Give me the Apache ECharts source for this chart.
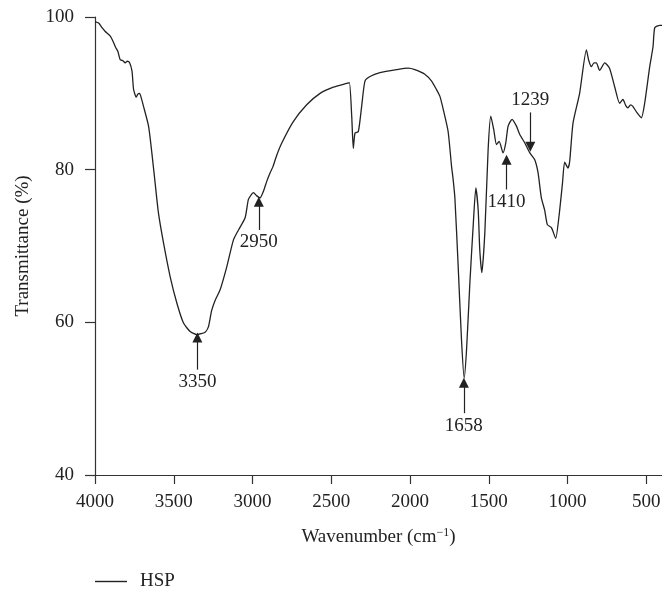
<!DOCTYPE html>
<html>
<head>
<meta charset="utf-8">
<script src="https://cdn.jsdelivr.net/npm/echarts@6/dist/echarts.min.js"></script>
<style>html,body{margin:0;padding:0;background:#fff;}#c{width:662px;height:590px;}</style>
</head>
<body>
<div id="c"></div>
<script>
const wavenumbers = [4000,3977,3955,3935,3903,3885,3871,3855,3840,3825,3808,3795,3781,3765,3755,3738,3728,3717,3705,3692,3660,3639,3618,3597,3565,3523,3480,3438,3396,3353,3301,3280,3260,3237,3205,3163,3121,3089,3047,3026,3005,2994,2975,2952,2930,2909,2888,2870,2846,2814,2741,2656,2571,2487,2402,2385,2370,2360,2349,2328,2307,2286,2254,2191,2085,2011,1969,1906,1863,1832,1810,1789,1758,1736,1726,1715,1694,1673,1656,1641,1620,1599,1582,1567,1557,1544,1525,1504,1487,1468,1451,1434,1409,1392,1377,1352,1324,1303,1271,1239,1208,1187,1166,1145,1128,1102,1075,1054,1032,1018,997,986,965,923,880,865,848,832,817,796,764,733,701,669,648,630,616,600,585,560,531,510,478,457,446,414,400];
const transmittance = [99.4,99.2,98.6,98.1,97.5,96.8,96.1,95.5,94.4,94.3,94.0,94.2,94.05,92.9,90.5,89.5,89.9,90.0,89.3,88.3,85.7,82.2,78.2,74.3,70.4,66.0,62.5,59.9,58.8,58.4,58.7,59.4,61.5,62.9,64.3,67.3,70.8,72.1,73.7,76.1,76.8,77.0,76.6,76.3,77.2,78.5,79.6,80.4,81.9,83.5,86.3,88.5,90.0,90.8,91.3,91.4,87.0,82.8,84.8,85.0,88.3,91.6,92.2,92.7,93.1,93.3,93.1,92.5,91.6,90.5,89.6,87.9,85.0,80.4,78.7,76.3,67.3,57.7,52.7,56.4,65.1,72.6,77.6,74.7,69.5,66.5,71.7,82.6,87.0,85.2,83.3,83.7,82.2,83.5,85.7,86.6,85.7,84.6,83.5,82.2,81.3,79.6,76.3,74.7,72.8,72.4,71.0,73.9,78.2,81.0,80.2,81.1,86.1,90.0,95.7,94.3,93.5,94.0,94.0,93.0,94.0,93.3,90.9,88.7,89.2,88.4,88.1,88.5,88.3,87.5,86.8,88.7,93.5,96.1,98.6,98.9,98.9];
const xTicks = [4000,3500,3000,2500,2000,1500,1000,500];
const yTicks = [40,60,80,100];
const annoLabels = ['3350','2950','1658','1410','1239'];
const annoX = [3350,2960,1658,1387,1236];
const annoTail = [53.8,72.1,48.1,77.4,87.5];
const annoTip = [58.0,75.8,52.1,81.3,83.0];
const seriesName = 'HSP';

const FONT = 'Liberation Serif';
const INK = '#222';
const chart = echarts.init(document.getElementById('c'));
const mlData = annoLabels.map((t, i) => [
  {coord: [annoX[i], annoTail[i]], label: {formatter: t}},
  {coord: [annoX[i], annoTip[i]]}
]);
chart.setOption({
  animation: false,
  grid: {left: 95, right: 0, top: 17, bottom: 115, containLabel: false, outerBoundsMode: 'none'},
  legend: {
    left: 95, top: 572, padding: 0, itemWidth: 32, itemHeight: 1.4, icon: 'rect',
    data: [seriesName],
    itemStyle: {color: INK},
    textStyle: {fontFamily: FONT, fontSize: 19, color: INK, padding: [0,0,0,8]}
  },
  xAxis: {
    type: 'value', inverse: true, min: 400, max: 4000,
    name: 'Wavenumber (cm{sup|−1})', nameLocation: 'middle', nameGap: 52,
    nameTextStyle: {fontFamily: FONT, fontSize: 19, color: INK,
      rich: {sup: {fontFamily: FONT, fontSize: 12, color: INK, verticalAlign: 'top', padding: [0,0,8,0]}}},
    axisLine: {lineStyle: {color: '#333', width: 1.2}},
    axisTick: {length: 9, lineStyle: {color: '#333', width: 1.2}, customValues: xTicks},
    axisLabel: {customValues: xTicks, margin: 18, fontFamily: FONT, fontSize: 19, color: INK,
      formatter: v => String(v)},
    splitLine: {show: false}
  },
  yAxis: {
    type: 'value', min: 40, max: 100, interval: 20,
    name: 'Transmittance (%)', nameLocation: 'middle', nameGap: 62,
    nameTextStyle: {fontFamily: FONT, fontSize: 19, color: INK},
    axisLine: {show: true, lineStyle: {color: '#333', width: 1.2}},
    axisTick: {show: true, length: 10, lineStyle: {color: '#333', width: 1.2}},
    axisLabel: {margin: 21, fontFamily: FONT, fontSize: 19, color: INK, formatter: v => String(v)},
    splitLine: {show: false}
  },
  series: [{
    name: seriesName, type: 'line', symbol: 'none', smooth: 0.2,
    lineStyle: {color: INK, width: 1.3},
    itemStyle: {color: INK},
    data: wavenumbers.map((w, i) => [w, transmittance[i]]),
    markLine: {
      silent: true, symbol: ['none', 'triangle'], symbolSize: 10,
      lineStyle: {color: INK, width: 1.2, type: 'solid'},
      label: {show: true, position: 'start', distance: 3, fontFamily: FONT, fontSize: 19, color: INK},
      data: mlData
    }
  }]
});
</script>
</body>
</html>
